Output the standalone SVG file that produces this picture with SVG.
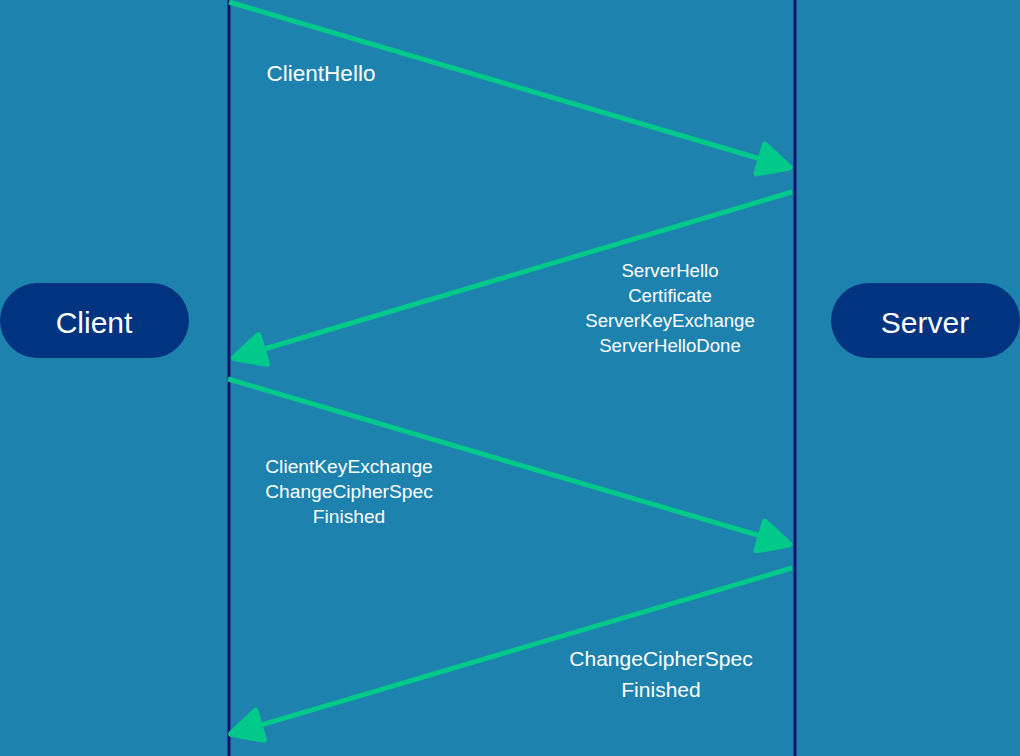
<svg xmlns="http://www.w3.org/2000/svg" width="1020" height="756" viewBox="0 0 1020 756">
<style>
.bg{fill:#1e82ae}
.pill{fill:#003480}
.life{stroke:#14146a;stroke-width:3}
.msg{stroke:#00c98a;stroke-width:5;fill:none}
.head{fill:#00c98a;stroke:#00c98a;stroke-width:6;stroke-linejoin:round}
text{font-family:"Liberation Sans",Arial,sans-serif;fill:#ffffff;text-anchor:middle}
.node{font-size:30px}
.l1{font-size:22.5px}
.l2{font-size:18.6px}
.l3{font-size:19.2px}
.l4{font-size:21px}
</style>
<defs>
<marker id="arr" markerUnits="userSpaceOnUse" orient="auto" refX="0" refY="0" markerWidth="40" markerHeight="40" overflow="visible">
<path class="head" d="M0,-15 L30,0 L0,15 Z"/>
</marker>
</defs>
<rect class="bg" x="0" y="0" width="1020" height="756"/>
<g id="lifelines">
<line class="life" x1="229" y1="0" x2="229" y2="756"/>
<line class="life" x1="795" y1="0" x2="795" y2="756"/>
</g>
<g id="client">
<rect class="pill" x="0" y="283" width="189" height="75" rx="37.5"/>
<text class="node" x="94" y="333">Client</text>
</g>
<g id="server">
<rect class="pill" x="831" y="283" width="189" height="75" rx="37.5"/>
<text class="node" x="925" y="333">Server</text>
</g>
<g id="connectors">
<line class="msg" x1="229" y1="2" x2="760.7" y2="159" marker-end="url(#arr)"/>
<line class="msg" x1="792" y1="192" x2="262.7" y2="349.5" marker-end="url(#arr)"/>
<line class="msg" x1="228" y1="379" x2="760.7" y2="536" marker-end="url(#arr)"/>
<line class="msg" x1="792" y1="568" x2="259.8" y2="725.4" marker-end="url(#arr)"/>
</g>
<g id="labels">
<text class="l1" x="321" y="81">ClientHello</text>
<text class="l2" x="670" y="277">ServerHello</text>
<text class="l2" x="670" y="302">Certificate</text>
<text class="l2" x="670" y="327">ServerKeyExchange</text>
<text class="l2" x="670" y="352">ServerHelloDone</text>
<text class="l3" x="349" y="473">ClientKeyExchange</text>
<text class="l3" x="349" y="498">ChangeCipherSpec</text>
<text class="l3" x="349" y="523">Finished</text>
<text class="l4" x="661" y="666">ChangeCipherSpec</text>
<text class="l4" x="661" y="697">Finished</text>
</g>
</svg>
